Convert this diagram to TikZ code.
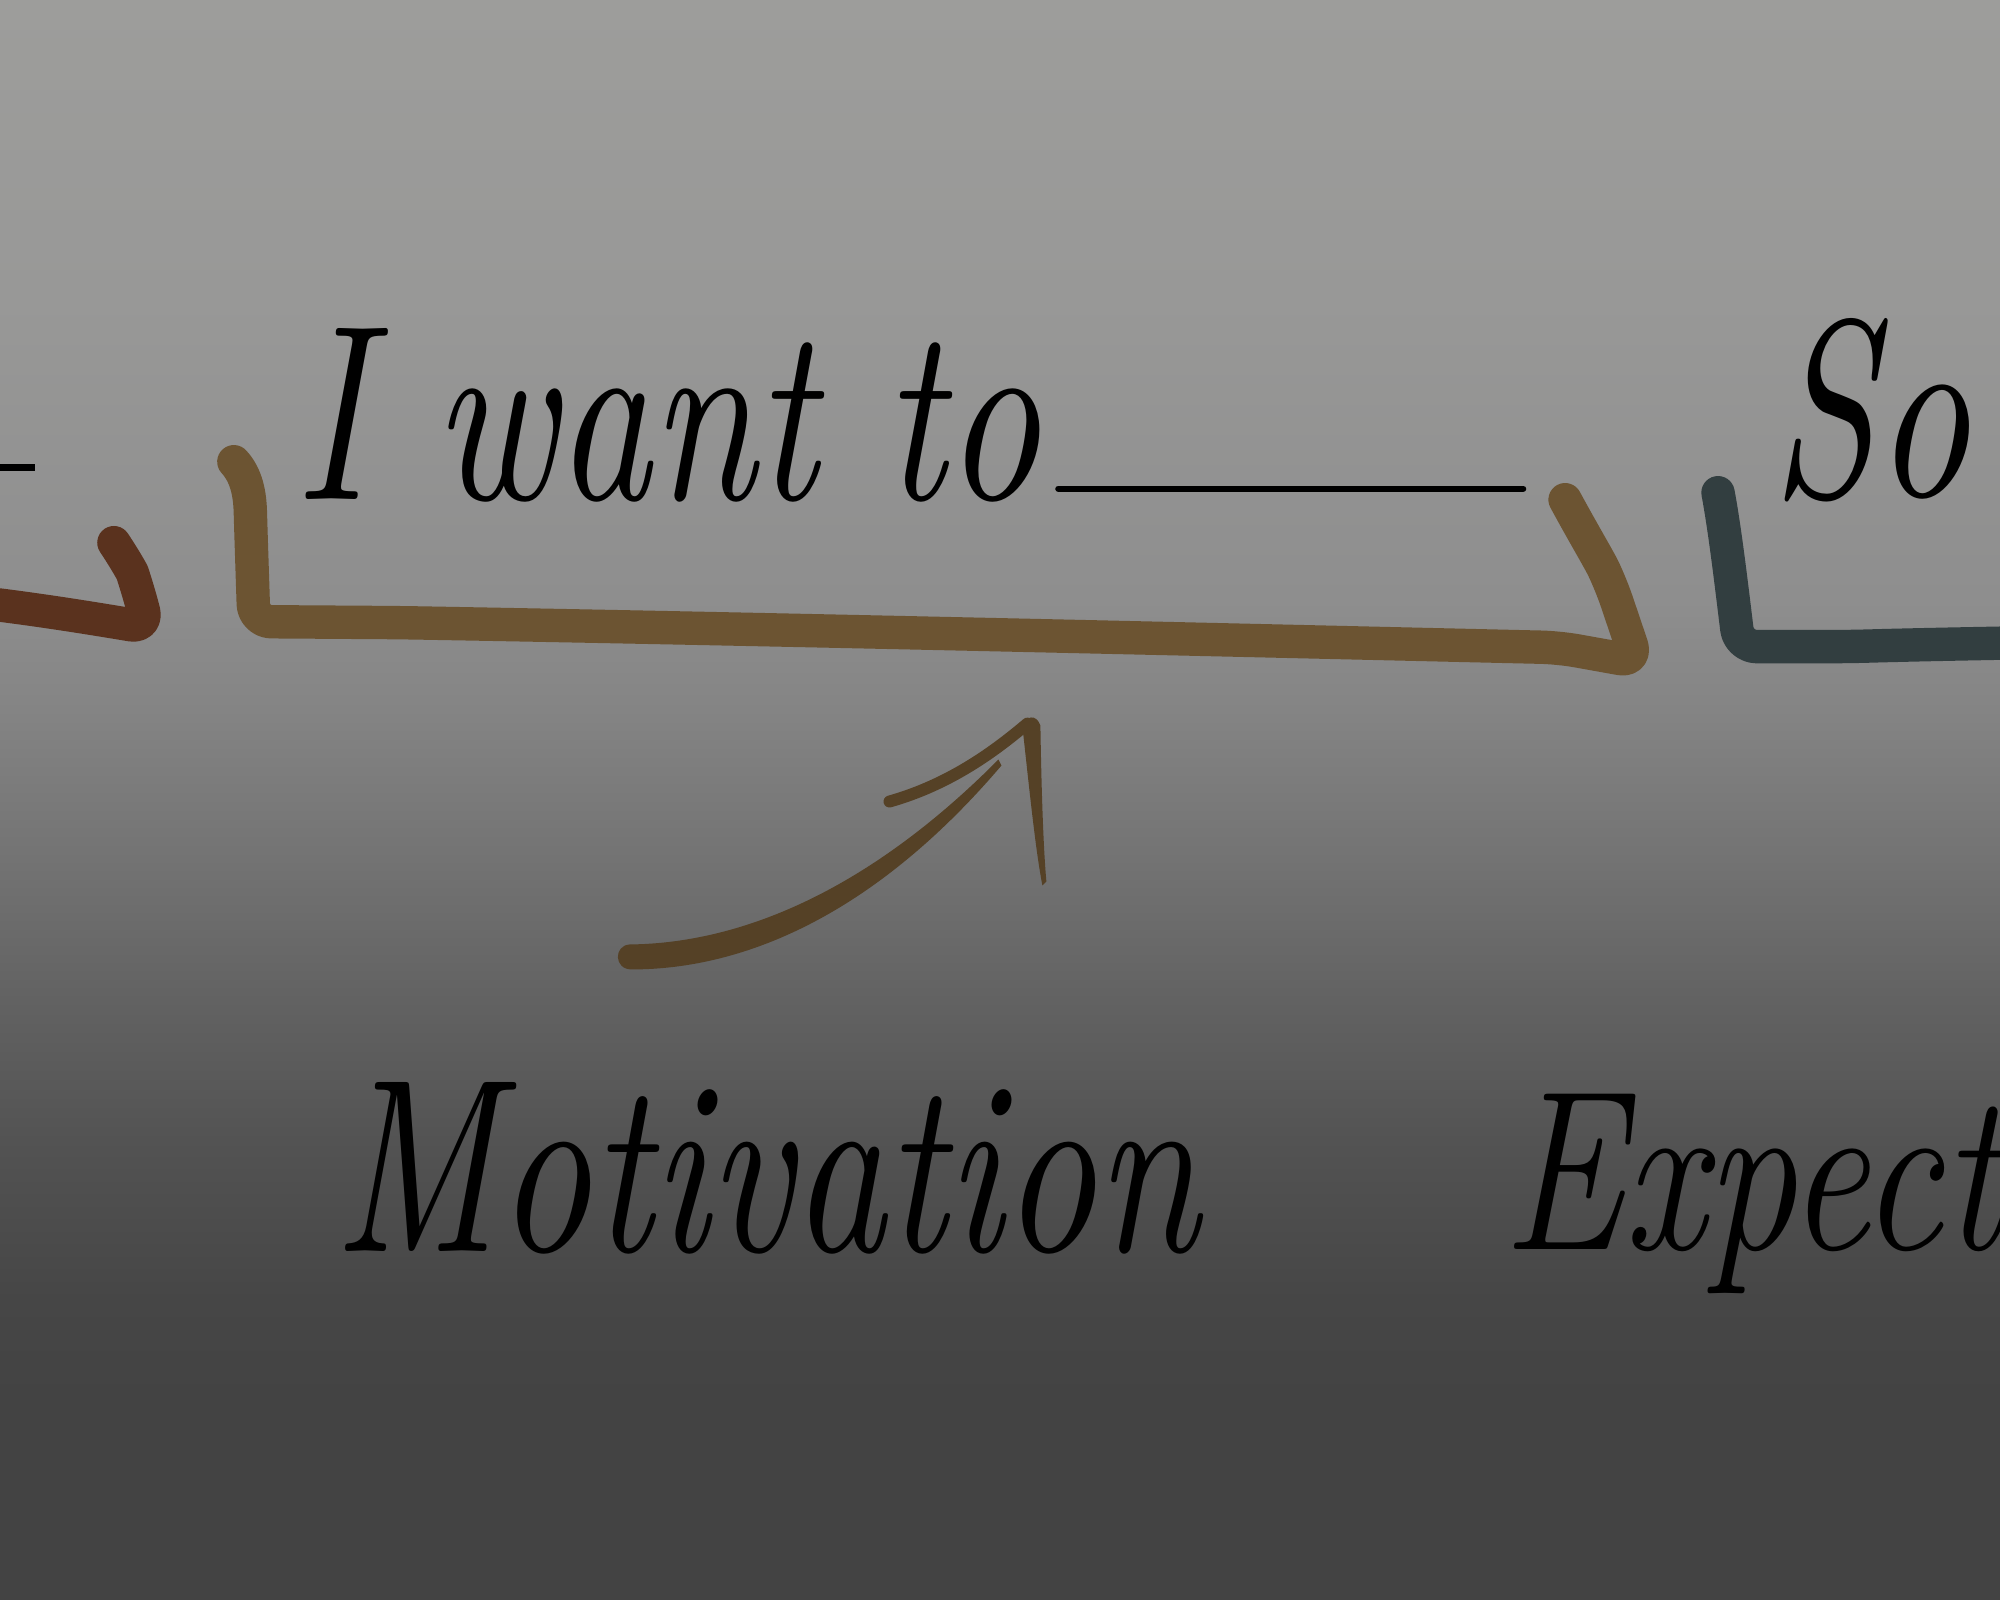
\documentclass[tikz,border=0pt]{standalone}
\usepackage{graphicx}
\definecolor{bgA}{HTML}{434343}
\definecolor{bgB}{HTML}{464646}
\definecolor{bgC}{HTML}{525252}
\definecolor{bgD}{HTML}{626262}
\definecolor{bgE}{HTML}{747474}
\definecolor{bgF}{HTML}{858585}
\definecolor{bgG}{HTML}{8E8E8E}
\definecolor{bgH}{HTML}{989897}
\definecolor{bgI}{HTML}{9D9D9B}
\definecolor{redbr}{HTML}{5A321E}
\definecolor{goldbr}{HTML}{6C5432}
\definecolor{tealbr}{HTML}{323E40}
\definecolor{arrowbr}{HTML}{554126}
\pgfdeclareverticalshading{bgshade}{20cm}{color(0cm)=(bgA); color(2cm)=(bgA); color(3cm)=(bgB); color(4.5cm)=(bgC); color(6cm)=(bgD); color(7.5cm)=(bgE); color(9cm)=(bgF); color(10cm)=(bgG); color(13cm)=(bgH); color(16cm)=(bgI)}
\begin{document}
\begin{tikzpicture}[x=0.01cm,y=-0.01cm,
  brk/.style={line width=9.5pt, line cap=round, line join=round, rounded corners=5},
  hw/.style={inner sep=0, outer sep=0, anchor=base west, text=black, font=\itshape}]
\node[inner sep=0, outer sep=0, anchor=north west] (bg) at (0,0) {\pgfuseshading{bgshade}};
\useasboundingbox (0,0) rectangle (2000,1600);

% texts
\node[hw] (want) at (296,500) {\resizebox{7.44cm}{1.71cm}{I want to}};
\coordinate (ulA) at (1059,489);
\coordinate (ulB) at (1524,489);
\draw[line width=1.8pt, line cap=round] (ulA) -- (ulB);
\node[hw] (so) at (1773,497) {\resizebox{1.98cm}{1.78cm}{So}};
\node[hw] (motiv) at (334,1252) {\resizebox{8.65cm}{1.69cm}{Motivation}};
\node[hw] (expect) at (1503,1250) {\scalebox{0.8}[1]{\fontsize{64.9pt}{70pt}\selectfont\itshape Expect}};

% left black dash
\draw[line width=2pt] (-10,468) -- (35,468);

% brackets
\draw[brk, redbr] (-20,603) .. controls (40,610) and (100,620) .. (148,628) -- (138,590) .. controls (132,572) and (124,558) .. (114,543);
\draw[brk, goldbr] (234,462) .. controls (247,476) and (250,495) .. (251,530) -- (254,622) -- (400,623) .. controls (800,630) and (1300,642) .. (1560,648) -- (1638,662) -- (1612,585) .. controls (1600,560) and (1585,535) .. (1566,500);
\draw[brk, tealbr] (1719,493) .. controls (1726,530) and (1733,590) .. (1740,647) -- (1850,647) .. controls (1920,645) and (1980,644) .. (2030,643);

% arrow
\fill[arrowbr] (999,760) .. controls (865,895) and (737,944) .. (630,945)
  .. controls (614,946) and (614,970) .. (632,970)
  .. controls (745,970) and (875,915) .. (1002,766) -- cycle;
\draw[arrowbr, line width=3.4pt, line cap=round] (890,802) .. controls (950,785) and (995,752) .. (1028,724);
\fill[arrowbr] (1023,727) .. controls (1026,716) and (1037,714) .. (1041,726)
  .. controls (1042,790) and (1044,850) .. (1047,882) -- (1043,886)
  .. controls (1036,850) and (1030,790) .. cycle;
\end{tikzpicture}
\end{document}
